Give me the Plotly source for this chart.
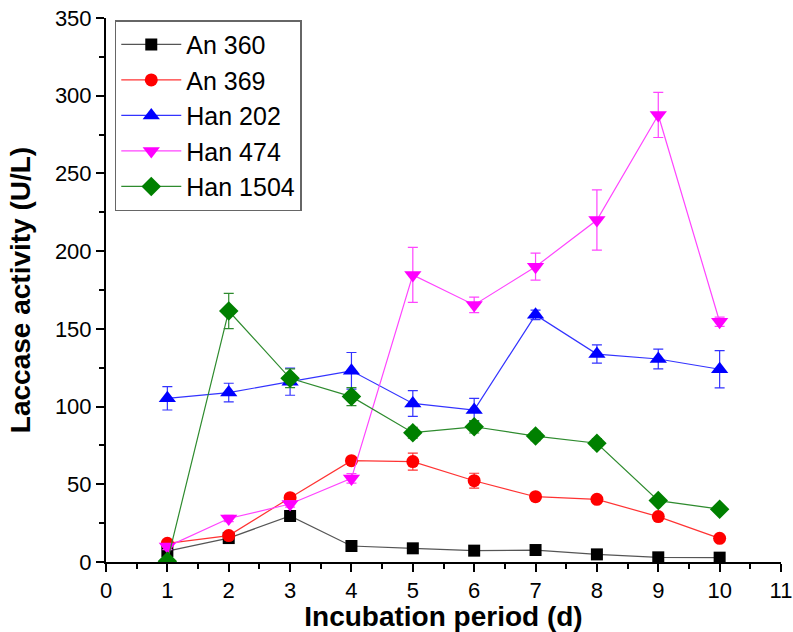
import plotly.graph_objects as go

days = [1, 2, 3, 4, 5, 6, 7, 8, 9, 10]

an360 = [7, 15.4, 29.6, 10.3, 8.8, 7.3, 7.7, 4.9, 3.0, 2.8]
an360_err = [1.5, 1.5, 2, 1, 1, 1, 1, 1, 0.5, 0.5]

an369 = [12, 17, 41.4, 65.2, 64.6, 52.3, 42, 40.3, 29.2, 15.2]
an369_err = [2, 2, 2, 2, 5.5, 4.8, 2, 1.5, 1.5, 1.5]

han202 = [105.3, 109, 116, 123, 102, 97.8, 159, 133.8, 130.6, 124]
han202_err = [7.5, 6, 8.7, 11.8, 8.3, 7.5, 3, 5.9, 6.4, 12]

han474 = [9.9, 28, 37.3, 53.8, 184.7, 165.4, 190, 220, 287.6, 154.6]
han474_err = [2, 2, 2, 3, 17.7, 5, 8.7, 19.4, 14.5, 3]

han1504 = [0.5, 161.5, 118.2, 106.4, 83.2, 87, 81, 76.4, 39.5, 34]
han1504_err = [1, 11.3, 6, 5.8, 3.5, 4, 3, 3, 2, 2]

series = [
    ("An 360", an360, an360_err, "black", "#555555", "square", 12),
    ("An 369", an369, an369_err, "red", "#ff3333", "circle", 13),
    ("Han 202", han202, han202_err, "blue", "#3333ff", "triangle-up", 15),
    ("Han 474", han474, han474_err, "magenta", "#ff44ff", "triangle-down", 15),
    ("Han 1504", han1504, han1504_err, "green", "#2e8b2e", "diamond", 15),
]

fig = go.Figure()
for name, vals, errs, mcol, lcol, sym, size in series:
    fig.add_trace(go.Scatter(
        x=days, y=vals, name=name, mode="lines+markers",
        line=dict(color=lcol, width=1.2),
        marker=dict(symbol=sym, color=mcol, size=size),
        error_y=dict(type="data", array=errs, visible=True, color=lcol,
                     thickness=1.2, width=5),
    ))

FONT = "Liberation Sans, Arial, sans-serif"
axis_font = dict(family=FONT, size=22, color="black")
title_font = dict(family=FONT, size=28, color="black")

fig.update_layout(
    width=793, height=632,
    margin=dict(l=106, r=12, t=18, b=70),
    paper_bgcolor="white", plot_bgcolor="white",
    font=dict(family=FONT, color="black"),
    legend=dict(
        x=0.013, y=0.996, xanchor="left", yanchor="top",
        bordercolor="#666666", borderwidth=1.5, bgcolor="white",
        font=dict(family=FONT, size=25, color="black"),
        itemwidth=60, tracegroupgap=0,
    ),
    xaxis=dict(
        range=[0, 11], tickmode="linear", tick0=0, dtick=1,
        showline=True, linecolor="black", linewidth=2,
        ticks="outside", ticklen=8, tickwidth=2, tickcolor="black",
        minor=dict(dtick=0.5, ticks="outside", ticklen=5, tickwidth=2, tickcolor="black"),
        showgrid=False, zeroline=False, automargin=False,
        ticklabeloverflow="allow",
        tickfont=axis_font,
        title=dict(text="<b>Incubation period (d)</b>", font=title_font, standoff=2),
    ),
    yaxis=dict(
        range=[0, 350], tickmode="linear", tick0=0, dtick=50,
        showline=True, linecolor="black", linewidth=2,
        ticks="outside", ticklen=8, tickwidth=2, tickcolor="black",
        minor=dict(dtick=25, ticks="outside", ticklen=5, tickwidth=2, tickcolor="black"),
        showgrid=False, zeroline=False, automargin=False,
        ticklabeloverflow="allow",
        tickfont=axis_font,
        title=dict(text="<b>Laccase activity (U/L)</b>", font=title_font, standoff=16),
    ),
)

fig.write_html("out.html", config={"displayModeBar": False},
               post_script="document.body.style.margin='0';")
